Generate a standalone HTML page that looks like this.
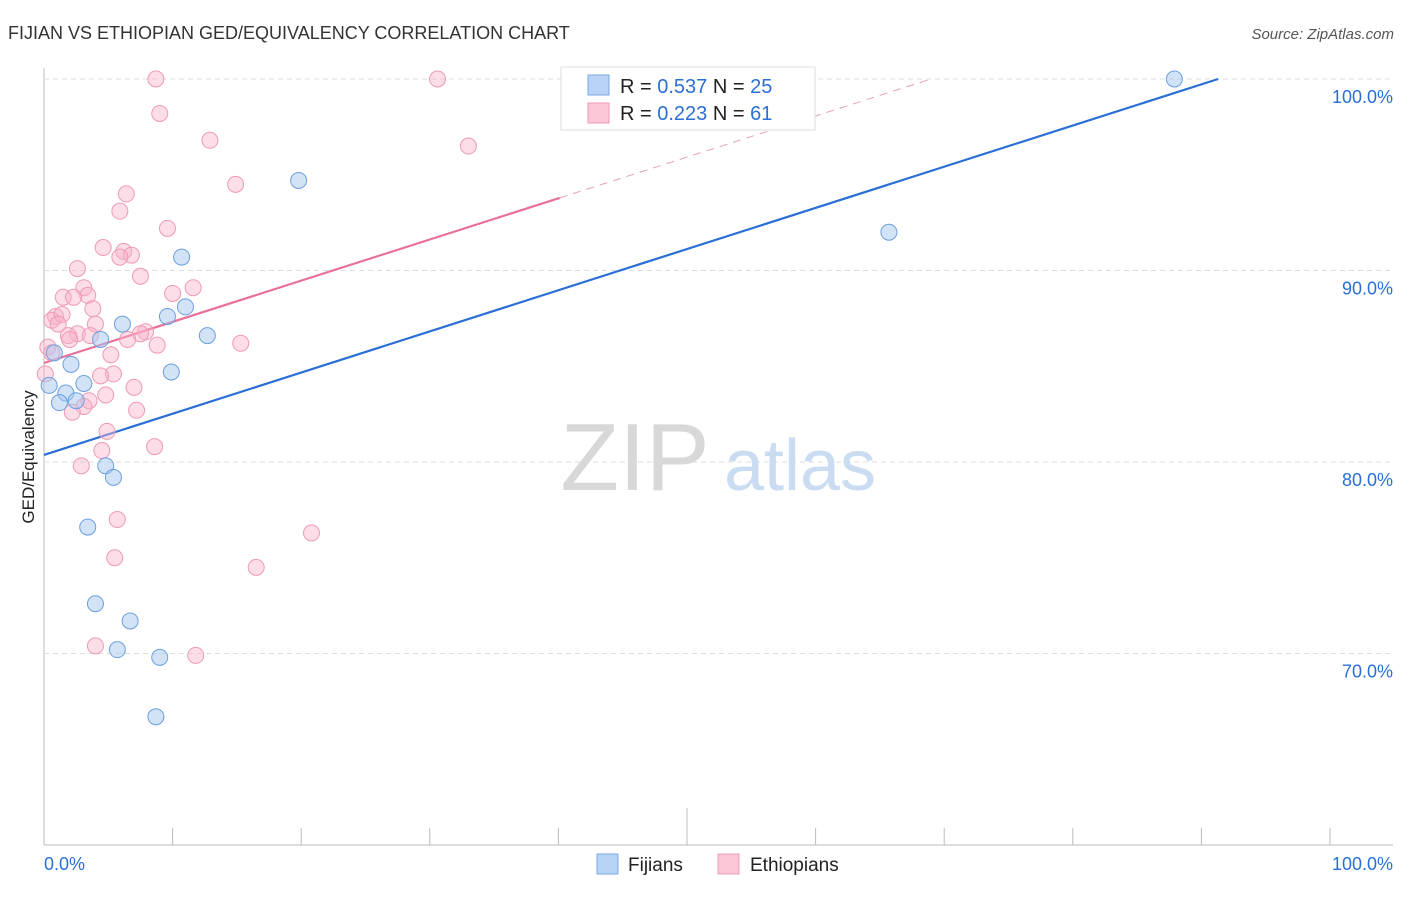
<!DOCTYPE html>
<html><head><meta charset="utf-8"><style>
body{margin:0;background:#fff;font-family:"Liberation Sans",sans-serif;}
svg text{font-family:"Liberation Sans",sans-serif;}
</style></head><body>
<svg id="chart" width="1406" height="892">
<text x="8" y="39" font-size="18" fill="#333">FIJIAN VS ETHIOPIAN GED/EQUIVALENCY CORRELATION CHART</text>
<text x="1394" y="39" font-size="15" fill="#555" font-style="italic" text-anchor="end">Source: ZipAtlas.com</text>
<text transform="translate(34,457) rotate(-90)" font-size="17" fill="#222" text-anchor="middle">GED/Equivalency</text>
<g id="grid"></g>
<g id="wm"><text x="635" y="490" font-size="96" fill="#d8d8d8" font-family="Liberation Serif" text-anchor="middle">ZIP</text><text x="800" y="490" font-size="72" fill="#c9dcf2" text-anchor="middle">atlas</text></g>
<g id="lines"></g>
<g id="pts"></g>
<g>
<rect x="561" y="67" width="254" height="63" fill="#fff" stroke="#ddd"/>
<rect x="588" y="75" width="21" height="20" fill="#b8d3f5" stroke="#7aa8e6"/>
<rect x="588" y="103" width="21" height="20" fill="#fcc8d8" stroke="#ee9ab5"/>
<text x="620" y="93" font-size="20" fill="#222">R = <tspan fill="#2a6fd6">0.537</tspan>   N = <tspan fill="#2a6fd6">25</tspan></text>
<text x="620" y="120" font-size="20" fill="#222">R = <tspan fill="#2a6fd6">0.223</tspan>   N =  <tspan fill="#2a6fd6">61</tspan></text>
</g>
<g>
<rect x="597" y="854" width="21" height="20" fill="#b8d3f5" stroke="#7aa8e6"/>
<text x="628" y="871" font-size="19" fill="#222">Fijians</text>
<rect x="718" y="854" width="21" height="20" fill="#fcc8d8" stroke="#ee9ab5"/>
<text x="750" y="871" font-size="19" fill="#222">Ethiopians</text>
</g>
<text x="44" y="870" font-size="18" fill="#2a6fd6">0.0%</text>
<text x="1393" y="870" font-size="18" fill="#2a6fd6" text-anchor="end">100.0%</text>
</svg>
<script>
const yTicks=[100,90,80,70];
const yTickLabels=["100.0%","90.0%","80.0%","70.0%"];
const fijX=[87.9,19.8,65.7,10.7,11.0,9.6,6.1,12.7,4.4,0.8,0.4,2.1,3.1,1.7,1.2,2.5,9.9,4.8,5.4,3.4,4.0,6.7,5.7,9.0,8.7];
const fijY=[100,94.7,92.0,90.7,88.1,87.6,87.2,86.6,86.4,85.7,84.0,85.1,84.1,83.6,83.1,83.2,84.7,79.8,79.2,76.6,72.6,71.7,70.2,69.8,66.7];
const ethX=[8.7,30.6,9.0,12.9,33.0,14.9,6.4,5.9,9.6,4.6,6.2,6.8,5.9,2.6,7.5,3.1,1.5,3.4,2.3,11.6,10.0,3.8,0.9,0.6,1.4,4.0,1.1,2.6,3.6,1.9,7.9,7.5,2.0,6.5,8.8,15.3,0.3,0.6,5.2,0.1,5.4,4.4,7.0,4.8,3.5,7.2,3.1,2.2,4.9,8.6,4.5,2.9,20.8,5.7,5.5,16.5,4.0,11.8];
const ethY=[100,100,98.2,96.8,96.5,94.5,94.0,93.1,92.2,91.2,91.0,90.8,90.7,90.1,89.7,89.1,88.6,88.7,88.6,89.1,88.8,88.0,87.6,87.4,87.7,87.2,87.2,86.7,86.6,86.6,86.8,86.7,86.4,86.4,86.1,86.2,86.0,85.7,85.6,84.6,84.6,84.5,83.9,83.5,83.2,82.7,82.9,82.6,81.6,80.8,80.6,79.8,76.3,77.0,75.0,74.5,70.4,69.9];
const fijTrend=[80.37,0.215];
const ethTrend=[85.17,0.215];
const NS="http://www.w3.org/2000/svg";
const X=v=>44+v*12.86, Y=v=>845-(v-60)*19.15;
function mk(tag,attrs,parent){const e=document.createElementNS(NS,tag);for(const k in attrs)e.setAttribute(k,attrs[k]);parent.appendChild(e);return e;}
const grid=document.getElementById('grid');
let ax=mk('line',{x1:44,y1:68,x2:44,y2:845,stroke:'#bbb'},grid);


let bx=mk('line',{x1:44,y1:845,x2:1393,y2:845,stroke:'#bbb'},grid);


yTicks.forEach((t,i)=>{
 const g=mk('line',{x1:44,x2:1393,y1:Y(t),y2:Y(t),stroke:'#ddd','stroke-dasharray':'5,4'},grid);
 
 
 const tx=mk('text',{x:1393,y:Y(t)+24,'font-size':18,fill:'#2a6fd6','text-anchor':'end'},grid);
 tx.textContent=yTickLabels[i];
 
 
});
for(let i=0;i<=10;i++){
 const tk=mk('line',{x1:X(i*10),x2:X(i*10),y1:845,y2:i==5?808:828,stroke:'#bbb'},grid);
 
 
}
const L=document.getElementById('lines');
const xEndF=(100-fijTrend[0])/fijTrend[1];
let l1=mk('line',{x1:X(0),y1:Y(fijTrend[0]),x2:X(xEndF),y2:Y(100),stroke:'#2a6fd6','stroke-width':2.2},L);


let l2=mk('line',{x1:X(0),y1:Y(ethTrend[0]),x2:X(40.1),y2:Y(ethTrend[0]+ethTrend[1]*40.1),stroke:'#e8709a','stroke-width':2.2},L);


const xEndE=(100-ethTrend[0])/ethTrend[1];
let l3=mk('line',{x1:X(40.1),y1:Y(ethTrend[0]+ethTrend[1]*40.1),x2:X(xEndE),y2:Y(100),stroke:'#e8a0b8','stroke-width':1,'stroke-dasharray':'8,6'},L);


const P=document.getElementById('pts');
ethX.forEach((v,i)=>{
 const c=mk('circle',{cx:X(v),cy:Y(ethY[i]),r:8,fill:'rgba(248,180,204,0.45)',stroke:'#ee9ab5','stroke-width':1},P);
 
 
});
fijX.forEach((v,i)=>{
 const c=mk('circle',{cx:X(v),cy:Y(fijY[i]),r:8,fill:'rgba(168,200,240,0.5)',stroke:'#6a9fe0','stroke-width':1},P);
 
 
});
</script>
</body></html>
